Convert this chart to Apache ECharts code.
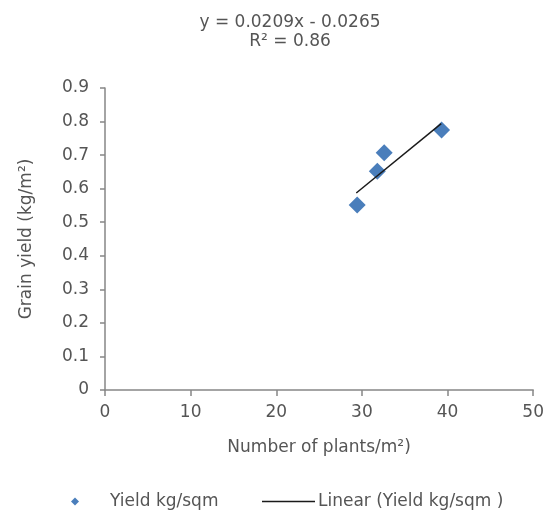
<html>
    <head>
        <meta charset="utf-8">
        <script src="https://cdn.jsdelivr.net/npm/echarts@6/dist/echarts.min.js"></script>
        <style>
            html, body { margin: 0; padding: 0; background: #fff; }
            #main { width: 547px; height: 514px; }
        </style>
    </head>
    <body>
        <div id="main"></div>

        <script>

        // values
        var plants = [29.45, 31.8, 32.6, 39.3];
        var yieldKg = [0.551, 0.652, 0.707, 0.775];

        // trendline ends
        var trendX = [29.34, 39.26];
        var trendY = [0.587, 0.794];

        var titleLines = ['y = 0.0209x - 0.0265', 'R\u00b2 = 0.86'];

        var font = 'DejaVu Sans';
        var textColor = '#555555';
        var axisColor = '#868686';

        var scatterData = plants.map(function (x, i) {
            return [x, yieldKg[i]];
        });
        var trendData = trendX.map(function (x, i) {
            return [x, trendY[i]];
        });

        var option = {
            animation: false,
            backgroundColor: '#fff',
            title: {
                text: titleLines.join('\n'),
                left: 285,
                textAlign: 'center',
                top: 8,
                textStyle: {
                    fontFamily: font,
                    fontSize: 17,
                    fontWeight: 'normal',
                    color: textColor,
                    lineHeight: 19
                }
            },
            grid: {
                left: 105,
                right: 12,
                top: 88,
                bottom: 124
            },
            legend: [
                {
                    data: [{name: 'Yield kg/sqm', icon: 'diamond'}],
                    left: 71,
                    top: 493,
                    padding: 0,
                    itemWidth: 8,
                    itemHeight: 8,
                    textStyle: {
                        fontFamily: font,
                        fontSize: 17,
                        color: textColor,
                        padding: [0, 0, 0, 26]
                    }
                },
                {
                    data: [{name: 'Linear (Yield kg/sqm )', icon: 'rect'}],
                    left: 262,
                    top: 493,
                    padding: 0,
                    itemWidth: 53,
                    itemHeight: 1.5,
                    textStyle: {
                        fontFamily: font,
                        fontSize: 17,
                        color: textColor,
                        padding: [0, 0, 0, -2]
                    }
                }
            ],
            xAxis: {
                type: 'value',
                min: 0,
                max: 50,
                interval: 10,
                name: 'Number of plants/m\u00b2)',
                nameLocation: 'middle',
                nameGap: 49,
                nameTextStyle: {
                    fontFamily: font,
                    fontSize: 17,
                    color: textColor
                },
                splitLine: {show: false},
                axisLine: {lineStyle: {color: axisColor, width: 1.5}},
                axisTick: {length: 6, lineStyle: {color: axisColor, width: 1.5}},
                axisLabel: {
                    margin: 14,
                    fontFamily: font,
                    fontSize: 17,
                    color: textColor
                }
            },
            yAxis: {
                type: 'value',
                min: 0,
                max: 0.9,
                interval: 0.1,
                name: 'Grain yield (kg/m\u00b2)',
                nameLocation: 'middle',
                nameGap: 70,
                nameTextStyle: {
                    fontFamily: font,
                    fontSize: 17,
                    color: textColor
                },
                splitLine: {show: false},
                axisLine: {show: true, lineStyle: {color: axisColor, width: 1.5}},
                axisTick: {show: true, length: 5, lineStyle: {color: axisColor, width: 1.5}},
                axisLabel: {
                    margin: 16,
                    fontFamily: font,
                    fontSize: 17,
                    color: textColor
                }
            },
            series: [
                {
                    name: 'Yield kg/sqm',
                    type: 'scatter',
                    symbol: 'diamond',
                    symbolSize: 17,
                    itemStyle: {color: '#4a7ebb', opacity: 1},
                    data: scatterData,
                    z: 2
                },
                {
                    name: 'Linear (Yield kg/sqm )',
                    type: 'line',
                    symbol: 'none',
                    lineStyle: {color: '#1a1a1a', width: 1.5},
                    itemStyle: {color: '#1a1a1a'},
                    data: trendData,
                    z: 3
                }
            ]
        };

        var myChart = echarts.init(document.getElementById('main'));
        myChart.setOption(option);

        </script>
    </body>
</html>
